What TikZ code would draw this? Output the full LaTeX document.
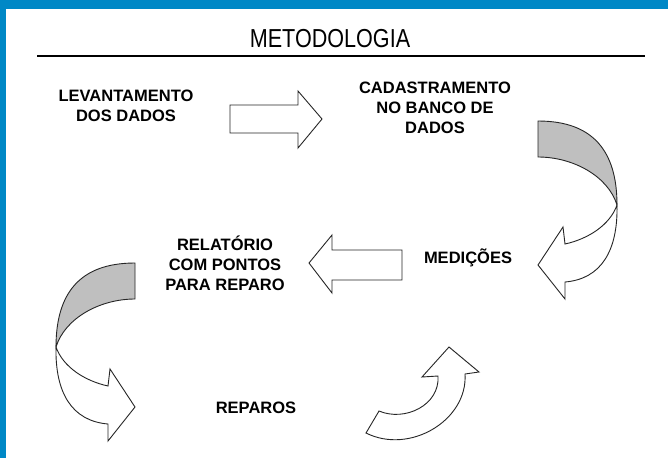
\documentclass[tikz,border=0pt]{standalone}
\usepackage{fontspec}
\setmainfont{Liberation Sans}
\definecolor{frameblue}{RGB}{0,136,198}
\definecolor{backgray}{RGB}{191,191,191}

% curled block arrow, local coordinates (origin = top of the grey back side)
\newcommand{\curlarrow}{%
  \draw[backside] (0,0) .. controls (55,0) and (79,30) .. (79,84)
     .. controls (70,55) and (35,36) .. (0,36) -- cycle;
  \draw[blockarrow] (79,84) .. controls (80,130) and (63,158) .. (27,161)
     -- (27,178) -- (0,144) -- (25,106) -- (27,123)
     .. controls (50,118) and (72,104) .. (79,84) -- cycle;
}

\begin{document}
\begin{tikzpicture}[x=1pt,y=-1pt,
  stagetext/.style={font=\fontsize{16.5}{20}\selectfont\bfseries,align=center,inner sep=0pt},
  blockarrow/.style={draw=black!85,line width=0.9pt,fill=white,line join=miter},
  backside/.style={draw=black!85,line width=0.9pt,fill=backgray}]
\useasboundingbox (0,0) rectangle (668,458);
\fill[white] (0,0) rectangle (668,458);
\fill[frameblue] (0,0) rectangle (668,9);
\fill[frameblue] (0,0) rectangle (6,458);

\node (titulo) at (330,38.5) {\scalebox{0.83}[1]{\fontsize{26}{28}\selectfont METODOLOGIA}};
\draw[line width=2.5pt] (37,56) -- (645,56);

\node[stagetext] (levantamento) at (126,106) {LEVANTAMENTO\\DOS DADOS};
\node[stagetext] (cadastro) at (435,108) {CADASTRAMENTO\\NO BANCO DE\\DADOS};
\node[stagetext] (medicoes) at (468,258) {MEDIÇÕES};
\node[stagetext] (relatorio) at (225,263) {RELATÓRIO\\COM PONTOS\\PARA REPARO};
\node[stagetext] (reparos) at (256,408) {REPAROS};

% straight arrows
\draw[blockarrow] (230,105) -- (298,105) -- (298,91) -- (322,119) -- (298,148)
   -- (298,133) -- (230,133) -- cycle;
\draw[blockarrow] (402,250) -- (332,250) -- (332,235) -- (309,263) -- (332,293)
   -- (332,280) -- (402,280) -- cycle;

% curled arrows
\begin{scope}[shift={(538,121)}]
  \curlarrow
\end{scope}
\begin{scope}[shift={(135,263)},xscale=-1]
  \curlarrow
\end{scope}

% upward bent arrow
\draw[blockarrow] (366,433) -- (379,411) .. controls (405,422) and (440,405) .. (438,376)
   -- (422,377) -- (449,347) -- (479,372) -- (465,374)
   .. controls (468,420) and (410,455) .. (366,433) -- cycle;
\end{tikzpicture}
\end{document}
